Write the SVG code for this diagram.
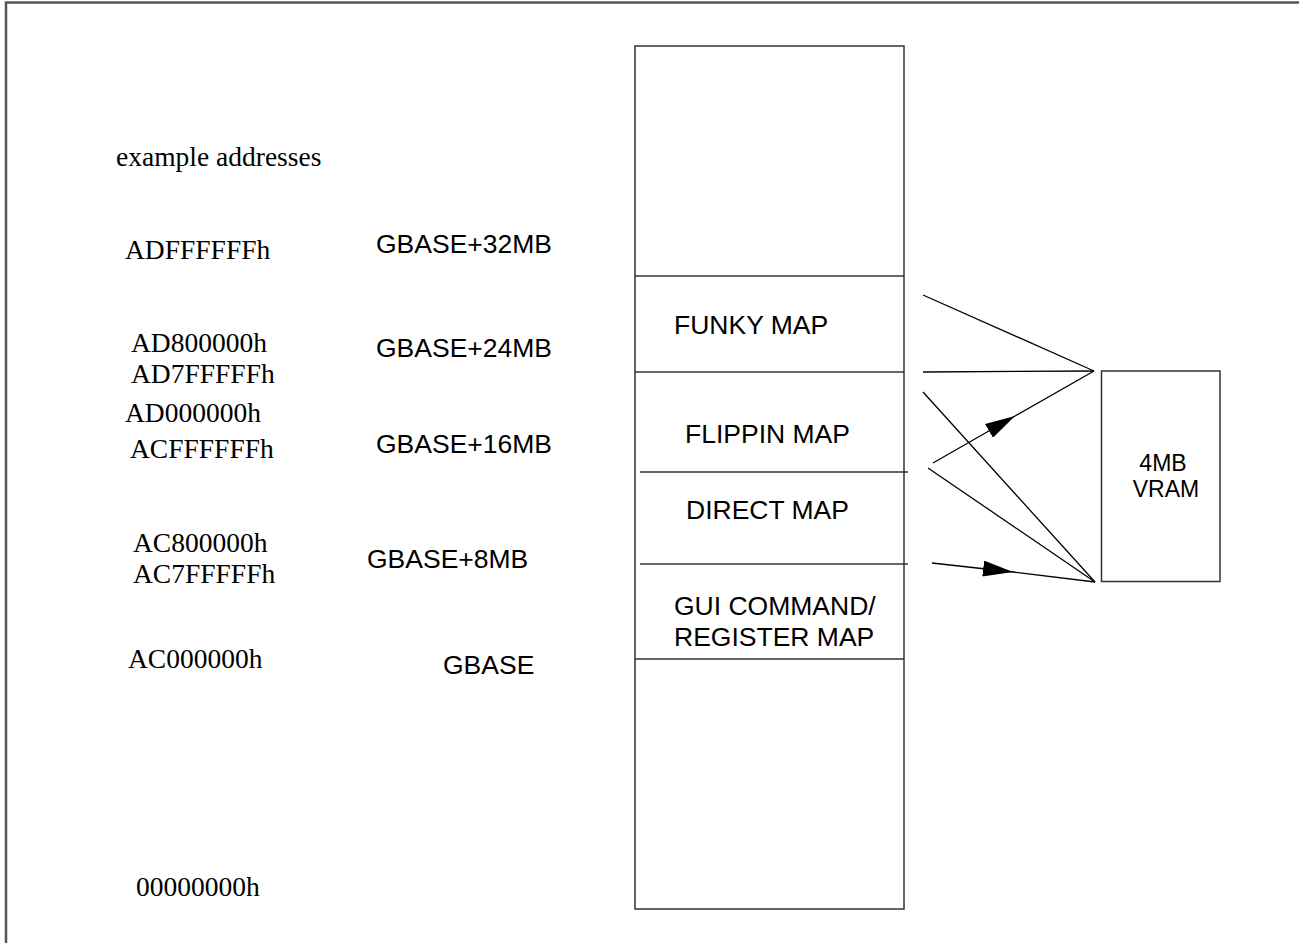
<svg xmlns="http://www.w3.org/2000/svg" width="1299" height="943" viewBox="0 0 1299 943">
<style>
.frame{fill:none;stroke:#555;stroke-width:2.5}
.box{fill:#fff;stroke:#333;stroke-width:1.5}
.div{stroke:#333;stroke-width:1.5;fill:none}
.con{stroke:#000;stroke-width:1.3;fill:none}
.serif{font-family:"Liberation Serif","Times New Roman",serif;font-size:27.5px;fill:#000}
.sans{font-family:"Liberation Sans",Arial,sans-serif;font-size:26.5px;fill:#000}
.vram{font-family:"Liberation Sans",Arial,sans-serif;font-size:23px;fill:#000}
</style>
<defs>
<marker id="ah" viewBox="0 0 30 16" refX="30" refY="8" markerWidth="30" markerHeight="16" markerUnits="userSpaceOnUse" orient="auto">
<path d="M0,0 L30,8 L0,16 Z" fill="#000"/>
</marker>
</defs>
<rect width="1299" height="943" fill="#fff"/>
<path class="frame" d="M6,943 V2.5 H1299"/>

<g id="addresses">
<text class="serif" x="116" y="166">example addresses</text>
<text class="serif" x="125" y="259">ADFFFFFFh</text>
<text class="serif" x="131" y="352">AD800000h</text>
<text class="serif" x="131" y="383">AD7FFFFFh</text>
<text class="serif" x="125" y="422">AD000000h</text>
<text class="serif" x="130" y="458">ACFFFFFFh</text>
<text class="serif" x="133" y="552">AC800000h</text>
<text class="serif" x="133" y="583">AC7FFFFFh</text>
<text class="serif" x="128" y="668">AC000000h</text>
<text class="serif" x="136" y="896">00000000h</text>
</g>

<g id="offsets">
<text class="sans" x="376" y="253">GBASE+32MB</text>
<text class="sans" x="376" y="357">GBASE+24MB</text>
<text class="sans" x="376" y="453">GBASE+16MB</text>
<text class="sans" x="367" y="568">GBASE+8MB</text>
<text class="sans" x="443" y="674">GBASE</text>
</g>

<g id="memory-map">
<rect class="box" x="635" y="46" width="269" height="863"/>
<line class="div" x1="635" y1="276" x2="904" y2="276"/>
<line class="div" x1="635" y1="372" x2="904" y2="372"/>
<line class="div" x1="640" y1="472" x2="908" y2="472"/>
<line class="div" x1="640" y1="564" x2="908" y2="564"/>
<line class="div" x1="635" y1="659" x2="904" y2="659"/>
</g>
<g id="funky-map"><text class="sans" x="674" y="334">FUNKY MAP</text></g>
<g id="flippin-map"><text class="sans" x="685" y="443">FLIPPIN MAP</text></g>
<g id="direct-map"><text class="sans" x="686" y="519">DIRECT MAP</text></g>
<g id="gui-map"><text class="sans" x="674" y="615">GUI COMMAND/</text><text class="sans" x="674" y="646">REGISTER MAP</text></g>

<g id="vram">
<rect class="box" x="1101.5" y="371" width="118.5" height="210.5"/>
<text class="vram" x="1163" y="471" text-anchor="middle">4MB</text>
<text class="vram" x="1166" y="497" text-anchor="middle">VRAM</text>
</g>

<g id="connectors">
<line class="con" x1="923" y1="295" x2="1094" y2="371"/>
<line class="con" x1="923" y1="372" x2="1094" y2="371"/>
<line class="con" x1="923" y1="392" x2="1095" y2="582"/>
<path class="con" d="M933,463 L1015,416 L1094,371" marker-mid="url(#ah)"/>
<line class="con" x1="928" y1="468" x2="1095" y2="582"/>
<path class="con" d="M932,563 L1013,572 L1095,582" marker-mid="url(#ah)"/>
</g>
</svg>
